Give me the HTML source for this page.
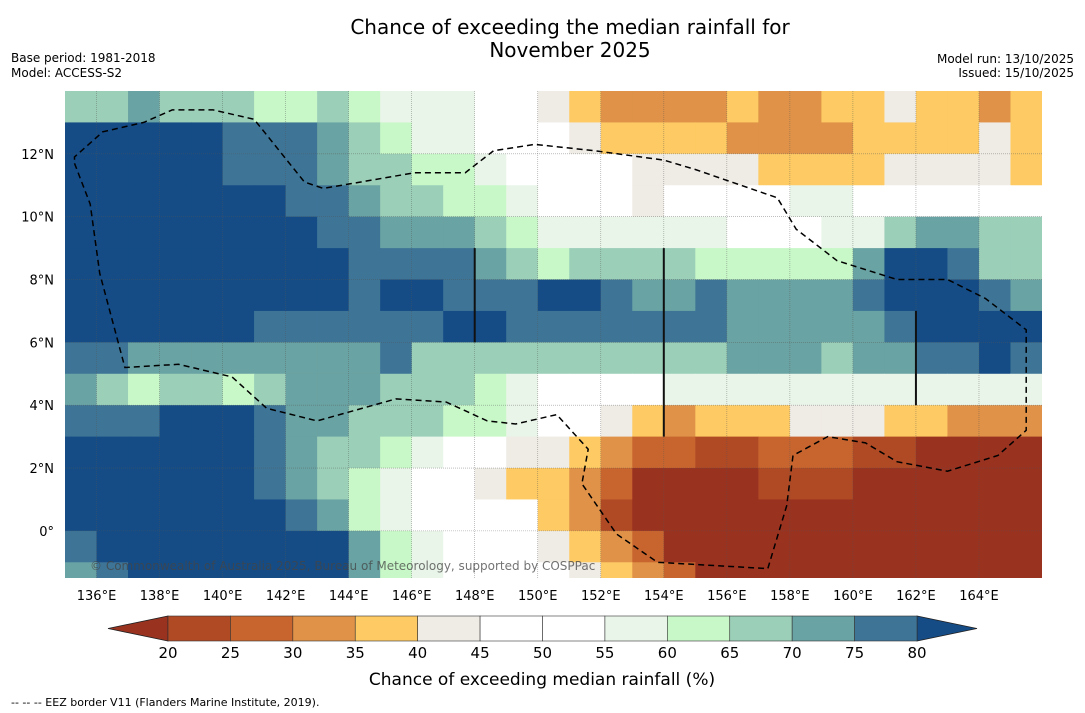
<!DOCTYPE html>
<html><head><meta charset="utf-8">
<style>
html,body{margin:0;padding:0;background:#fff;}
svg{display:block;font-family:"DejaVu Sans","Liberation Sans",sans-serif;}
</style></head>
<body>
<svg id="chart" width="1085" height="713" viewBox="0 0 1085 713">
  <rect width="1085" height="713" fill="#fff"/>
  <text x="570" y="34" text-anchor="middle" font-size="20">Chance of exceeding the median rainfall for</text>
  <text x="570" y="57" text-anchor="middle" font-size="20">November 2025</text>
  <text x="11" y="62" font-size="12">Base period: 1981-2018</text>
  <text x="11" y="77" font-size="12">Model: ACCESS-S2</text>
  <text x="1074" y="63" font-size="12" text-anchor="end">Model run: 13/10/2025</text>
  <text x="1074" y="77" font-size="12" text-anchor="end">Issued: 15/10/2025</text>
  <defs><clipPath id="mapclip"><rect x="65" y="91" width="977" height="487"/></clipPath></defs>
  <g id="cells" clip-path="url(#mapclip)"></g>
  <g id="grid" clip-path="url(#mapclip)"></g>
  <g id="overlay" clip-path="url(#mapclip)"></g>
  <text x="90" y="570" font-size="12" fill="#444" fill-opacity="0.75">© Commonwealth of Australia 2025, Bureau of Meteorology, supported by COSPPac</text>
  <g id="xticks"></g>
  <g id="yticks"></g>
  <g id="cbar"></g>
  <text x="542" y="685" text-anchor="middle" font-size="17">Chance of exceeding median rainfall (%)</text>
  <text x="11" y="706" font-size="11">--  --  -- EEZ border V11 (Flanders Marine Institute, 2019).</text>
</svg>
<script>
const NS="http://www.w3.org/2000/svg";
const lonStart=135, lonEnd=166, latTop=14, latBottom=-1.5;
const binEdges=[20,25,30,35,40,45,50,55,60,65,70,75,80];
const binColors=["#9a3220","#b04a25","#c8652f","#df9248","#fdca63","#efebe5","#ffffff","#ffffff","#e9f5e8","#c8f8c8","#9bcfb8","#6aa3a3","#3e7597","#154c86"];
const tickLons=[136,138,140,142,144,146,148,150,152,154,156,158,160,162,164];
const tickLats=[12,10,8,6,4,2,0];
const rowLats=[13.5,12.5,11.5,10.5,9.5,8.5,7.5,6.5,5.5,4.5,3.5,2.5,1.5,0.5,-0.5,-1.25];
const field=[
[67,67,72,67,67,67,62,62,67,62,57,57,57,52,52,42,37,32,32,32,32,37,32,32,37,37,42,37,37,32,37],
[82,82,82,82,82,77,77,77,72,67,62,57,57,52,52,52,42,37,37,37,37,32,32,32,32,37,37,37,37,42,37],
[82,82,82,82,82,77,77,77,72,67,67,62,62,57,52,52,52,52,42,42,42,42,37,37,37,37,42,42,42,42,37],
[82,82,82,82,82,82,82,77,77,72,67,67,62,62,57,52,52,47,42,47,47,52,52,57,57,52,52,52,52,52,52],
[82,82,82,82,82,82,82,82,77,77,72,72,72,67,62,57,57,57,57,57,57,52,52,52,57,57,67,72,72,67,67],
[82,82,82,82,82,82,82,82,82,77,77,77,77,72,67,62,67,67,67,67,62,62,62,62,62,72,82,82,77,67,67],
[82,82,82,82,82,82,82,82,82,77,82,82,77,77,77,82,82,77,72,72,77,72,72,72,72,77,82,82,82,77,72],
[82,82,82,82,82,82,77,77,77,77,77,77,82,82,77,77,77,77,77,77,77,72,72,72,72,72,77,82,82,82,82],
[77,77,72,72,72,72,72,72,72,72,77,67,67,67,67,67,67,67,67,67,67,72,72,72,67,72,72,77,77,82,77],
[72,67,62,67,67,62,67,72,72,72,67,67,67,62,57,52,52,52,52,57,57,57,57,57,57,57,57,57,57,57,57],
[77,77,77,82,82,82,77,72,72,67,67,67,62,62,57,47,47,42,37,32,37,37,37,42,42,42,37,37,32,32,32],
[82,82,82,82,82,82,77,72,67,67,62,57,52,47,42,42,37,32,27,27,22,22,27,27,27,22,22,17,17,17,17],
[82,82,82,82,82,82,77,72,67,62,57,52,52,42,37,37,32,27,17,17,17,17,22,22,22,17,17,17,17,17,17],
[82,82,82,82,82,82,82,77,72,62,57,52,52,52,47,37,32,22,17,17,17,17,17,17,17,17,17,17,17,17,17],
[77,82,82,82,82,82,82,82,82,72,62,57,52,52,47,42,37,32,27,17,17,17,17,17,17,17,17,17,17,17,17],
[72,77,82,82,82,82,82,82,82,72,62,57,52,52,52,47,42,37,32,27,17,17,17,17,17,17,17,17,17,17,17]
];
const eezLon=[135.3,135.8,136.1,136.9,138.6,140.3,141.4,143.0,145.5,147.1,148.4,149.3,150.6,151.6,151.4,152.5,153.8,157.3,157.9,158.1,159.2,160.4,161.4,163.0,164.6,165.5,165.5,164.2,163.0,161.4,159.5,158.2,157.6,155.0,154.0,151.8,149.9,148.6,147.7,146.1,143.2,142.6,141.0,139.7,138.4,137.5,136.2,135.3,135.3];
const eezLat=[11.7,10.4,8.2,5.2,5.3,4.9,3.9,3.5,4.2,4.1,3.5,3.4,3.7,2.6,1.5,-0.1,-1.0,-1.2,0.8,2.4,3.0,2.8,2.2,1.9,2.4,3.2,6.4,7.4,8.0,8.0,8.6,9.6,10.6,11.5,11.8,12.1,12.3,12.1,11.4,11.4,10.9,11.1,13.1,13.4,13.4,13.0,12.7,11.9,11.7];
const markerLon=[148,154,162];
const markerLatTop=[9.0,9.0,7.0];
const markerLatBottom=[6.0,3.0,4.0];

function xOf(lon){return 65+(lon-lonStart)*(977/(lonEnd-lonStart));}
function yOf(lat){return 91+(latTop-lat)*(487/(latTop-latBottom));}
function colorFor(v){
  if(v<binEdges[0]) return binColors[0];
  for(let i=1;i<binEdges.length;i++){ if(v<binEdges[i]) return binColors[i]; }
  return binColors[binColors.length-1];
}
const cells=document.getElementById('cells');
for(let r=0;r<field.length;r++){
  const lat=rowLats[r];
  const half=(r===field.length-1)?0.25:0.5;
  for(let c=0;c<field[r].length;c++){
    const lon=lonStart+c;
    const rc=document.createElementNS(NS,'rect');
    const x0=xOf(lon), x1=xOf(lon+1), y0=yOf(lat+half), y1=yOf(lat-half);
    rc.setAttribute('x',x0.toFixed(2));
    rc.setAttribute('y',y0.toFixed(2));
    rc.setAttribute('width',(x1-x0+0.6).toFixed(2));
    rc.setAttribute('height',(y1-y0+0.6).toFixed(2));
    rc.setAttribute('fill',colorFor(field[r][c]));
    
    
    cells.appendChild(rc);
  }
}
const grid=document.getElementById('grid');
tickLons.forEach(lon=>{
  const l=document.createElementNS(NS,'line');
  l.setAttribute('x1',xOf(lon));l.setAttribute('x2',xOf(lon));
  l.setAttribute('y1',91);l.setAttribute('y2',578);
  l.setAttribute('stroke','#555');l.setAttribute('stroke-width','0.6');l.setAttribute('stroke-dasharray','1,1');l.setAttribute('stroke-opacity','0.6');
  
  
  grid.appendChild(l);
});
tickLats.forEach(lat=>{
  const l=document.createElementNS(NS,'line');
  l.setAttribute('y1',yOf(lat));l.setAttribute('y2',yOf(lat));
  l.setAttribute('x1',65);l.setAttribute('x2',1042);
  l.setAttribute('stroke','#555');l.setAttribute('stroke-width','0.6');l.setAttribute('stroke-dasharray','1,1');l.setAttribute('stroke-opacity','0.6');
  
  
  grid.appendChild(l);
});
const overlay=document.getElementById('overlay');
const eez=document.createElementNS(NS,'polyline');
eez.setAttribute('points',eezLon.map((lo,i)=>xOf(lo).toFixed(1)+','+yOf(eezLat[i]).toFixed(1)).join(' '));
eez.setAttribute('fill','none');eez.setAttribute('stroke','#000');eez.setAttribute('stroke-width','1.5');eez.setAttribute('stroke-dasharray','6,4');


overlay.appendChild(eez);
markerLon.forEach((lon,i)=>{
  const l=document.createElementNS(NS,'line');
  l.setAttribute('x1',xOf(lon));l.setAttribute('x2',xOf(lon));
  l.setAttribute('y1',yOf(markerLatTop[i]));l.setAttribute('y2',yOf(markerLatBottom[i]));
  l.setAttribute('stroke','#111');l.setAttribute('stroke-width','2');
  
  
  overlay.appendChild(l);
});
const xt=document.getElementById('xticks');
tickLons.forEach(lon=>{
  const t=document.createElementNS(NS,'text');
  t.setAttribute('x',xOf(lon));t.setAttribute('y',600);t.setAttribute('text-anchor','middle');t.setAttribute('font-size','13');
  t.textContent=lon+'°E';
  
  
  xt.appendChild(t);
});
const yt=document.getElementById('yticks');
tickLats.forEach(lat=>{
  const t=document.createElementNS(NS,'text');
  t.setAttribute('x',54);t.setAttribute('y',yOf(lat)+5);t.setAttribute('text-anchor','end');t.setAttribute('font-size','13');
  t.textContent=lat===0?'0°':lat+'°N';
  
  
  yt.appendChild(t);
});
const cb=document.getElementById('cbar');
const cbX0=168, cbX1=917, cbY0=616, cbY1=641, nb=binEdges.length-1, bw=(cbX1-cbX0)/nb;
const lt=document.createElementNS(NS,'polygon');
lt.setAttribute('points',`108,628.5 ${cbX0},${cbY0} ${cbX0},${cbY1}`);
lt.setAttribute('fill',binColors[0]);lt.setAttribute('stroke','#222');lt.setAttribute('stroke-width','0.8');


cb.appendChild(lt);
const rt=document.createElementNS(NS,'polygon');
rt.setAttribute('points',`977,628.5 ${cbX1},${cbY0} ${cbX1},${cbY1}`);
rt.setAttribute('fill',binColors[binColors.length-1]);rt.setAttribute('stroke','#222');rt.setAttribute('stroke-width','0.8');


cb.appendChild(rt);
for(let i=0;i<nb;i++){
  const r=document.createElementNS(NS,'rect');
  r.setAttribute('x',cbX0+i*bw);r.setAttribute('y',cbY0);r.setAttribute('width',bw);r.setAttribute('height',cbY1-cbY0);
  r.setAttribute('fill',binColors[i+1]);r.setAttribute('stroke','#333');r.setAttribute('stroke-width','0.6');
  
  
  cb.appendChild(r);
}
binEdges.forEach((e,i)=>{
  const t=document.createElementNS(NS,'text');
  t.setAttribute('x',cbX0+i*bw);t.setAttribute('y',658);t.setAttribute('text-anchor','middle');t.setAttribute('font-size','15');
  t.textContent=e;
  
  
  cb.appendChild(t);
});
</script>
</body></html>
